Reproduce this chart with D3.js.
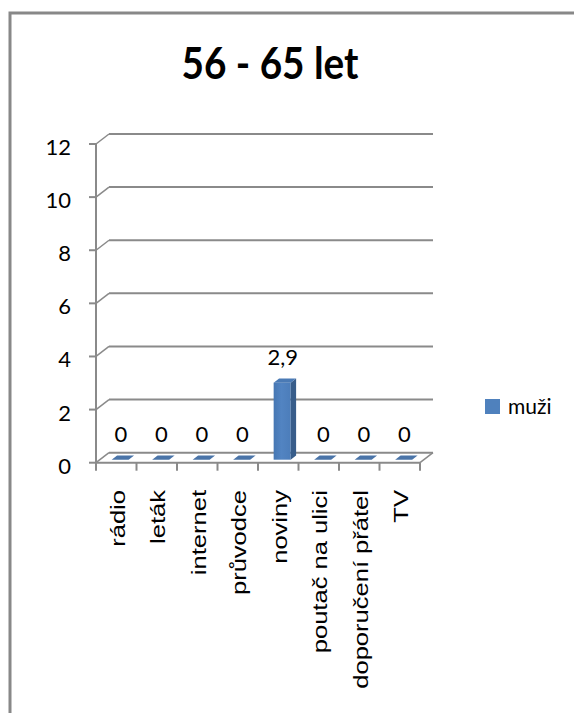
<!DOCTYPE html>
<html>
<head>
<meta charset="utf-8">
<script src="https://cdn.jsdelivr.net/npm/d3@7"></script>
<style>
  html, body { margin: 0; padding: 0; background: #fff; }
  svg { display: block; }
  text { font-family: Lato, "Open Sans", "DejaVu Sans", sans-serif; fill: #000; }
  .cat { font-family: "Liberation Sans", Arial, sans-serif; }
</style>
</head>
<body>
<svg id="chart" width="574" height="713"></svg>
<script>
// Data
const title = "56 - 65 let";
const categories = ["rádio", "leták", "internet", "průvodce", "noviny", "poutač na ulici", "doporučení přátel", "TV"];
const seriesName = "muži";
const values = [0, 0, 0, 0, 2.9, 0, 0, 0];
const yTicks = [0, 2, 4, 6, 8, 10, 12];

const svg = d3.select("#chart");

// Outer frame of the chart area
svg.append("rect")
  .attr("x", 10).attr("y", 13)
  .attr("width", 620).attr("height", 760)
  .attr("fill", "none").attr("stroke", "#888").attr("stroke-width", 3);

// Title
svg.append("text")
  .attr("transform", "translate(270,79) scale(0.88,1)")
  .attr("text-anchor", "middle")
  .attr("font-size", 44).attr("font-weight", "bold")
  .text(title);

// Scales
const x0 = 96, x1 = 420;
const y = d3.scaleLinear().domain([0, 12]).range([462.7, 144]);
const x = d3.scaleBand().domain(categories).range([x0, x1]).padding(0);
const DX = 13, DY = -10;          // depth offset of the 3D box
const gridColor = "#8a8a8a";
const fmt = v => d3.format(".1~f")(v).replace(".", ",");

const g = svg.append("g");

// Back wall gridlines + left wall connectors + axis ticks
yTicks.forEach(t => {
  const yy = y(t);
  g.append("line")
    .attr("x1", x0 + DX).attr("x2", x1 + DX)
    .attr("y1", yy + DY).attr("y2", yy + DY)
    .attr("stroke", gridColor).attr("stroke-width", 2);
  g.append("line")
    .attr("x1", x0).attr("y1", yy)
    .attr("x2", x0 + DX).attr("y2", yy + DY)
    .attr("stroke", gridColor).attr("stroke-width", 1.5);
  g.append("line")
    .attr("x1", x0 - 7).attr("x2", x0)
    .attr("y1", yy).attr("y2", yy)
    .attr("stroke", gridColor).attr("stroke-width", 2);
  g.append("text")
    .attr("x", 71).attr("y", yy + 11)
    .attr("text-anchor", "end")
    .attr("font-size", 22)
    .text(t);
});

// Floor: front edge and right edge
g.append("line")
  .attr("x1", x0).attr("x2", x1)
  .attr("y1", y(0)).attr("y2", y(0))
  .attr("stroke", gridColor).attr("stroke-width", 2);
g.append("line")
  .attr("x1", x1).attr("y1", y(0))
  .attr("x2", x1 + DX).attr("y2", y(0) + DY)
  .attr("stroke", gridColor).attr("stroke-width", 1.5);

// Vertical axis line
g.append("line")
  .attr("x1", x0).attr("x2", x0)
  .attr("y1", y(12)).attr("y2", y(0))
  .attr("stroke", gridColor).attr("stroke-width", 2);

// Category tick marks
d3.range(categories.length + 1).forEach(i => {
  const xx = x0 + i * x.bandwidth();
  g.append("line")
    .attr("x1", xx).attr("x2", xx)
    .attr("y1", y(0)).attr("y2", y(0) + 8)
    .attr("stroke", gridColor).attr("stroke-width", 2);
});

// Front-face shading of the columns
const defs = svg.append("defs");
const grad = defs.append("linearGradient").attr("id", "front").attr("x1", 0).attr("x2", 1).attr("y1", 0).attr("y2", 0);
grad.append("stop").attr("offset", "0%").attr("stop-color", "#4677b3");
grad.append("stop").attr("offset", "45%").attr("stop-color", "#5284c2");
grad.append("stop").attr("offset", "100%").attr("stop-color", "#4c7dba");

// 3D columns
const barW = 17, f1 = 0.3, f2 = 0.72;
const ddx = DX * (f2 - f1), ddy = DY * (f2 - f1);
const bars = g.selectAll(".bar").data(categories.map((c, i) => ({ c, v: values[i] })))
  .enter().append("g").attr("class", "bar");

bars.each(function(d) {
  const sel = d3.select(this);
  const cx = x(d.c) + x.bandwidth() / 2 + DX * f1;
  const xl = cx - barW / 2, xr = cx + barW / 2;
  const yt = y(d.v) + DY * f1, yb = y(0) + DY * f1;
  if (d.v > 0) {
    sel.append("rect")
      .attr("x", xl).attr("y", yt)
      .attr("width", barW).attr("height", yb - yt)
      .attr("fill", "url(#front)");
    sel.append("path")
      .attr("d", `M${xr},${yt}L${xr + ddx},${yt + ddy}L${xr + ddx},${yb + ddy}L${xr},${yb}Z`)
      .attr("fill", "#385d8a");
  }
  sel.append("path")
    .attr("d", `M${xl},${yt}L${xr},${yt}L${xr + ddx},${yt + ddy}L${xl + ddx},${yt + ddy}Z`)
    .attr("fill", d.v > 0 ? "#4a7ab5" : "#4a74a8");
});

// Value labels
categories.forEach((c, i) => {
  g.append("text")
    .attr("x", x(c) + x.bandwidth() / 2 + DX * 0.35)
    .attr("y", y(values[i]) - 21)
    .attr("text-anchor", "middle")
    .attr("font-size", 22)
    .text(fmt(values[i]));
});

// Category labels (rotated)
categories.forEach(c => {
  const cx = x(c) + x.bandwidth() / 2 + 8.5;
  g.append("text")
    .attr("class", "cat")
    .attr("transform", `translate(${cx},490) rotate(-90) scale(1.31,1)`)
    .attr("text-anchor", "end")
    .attr("font-size", 19.5)
    .text(c);
});

// Legend
svg.append("rect")
  .attr("x", 485).attr("y", 399)
  .attr("width", 15).attr("height", 15)
  .attr("fill", "#4f81bd");
svg.append("text")
  .attr("x", 508).attr("y", 414)
  .attr("font-size", 21)
  .text(seriesName);
</script>
</body>
</html>
